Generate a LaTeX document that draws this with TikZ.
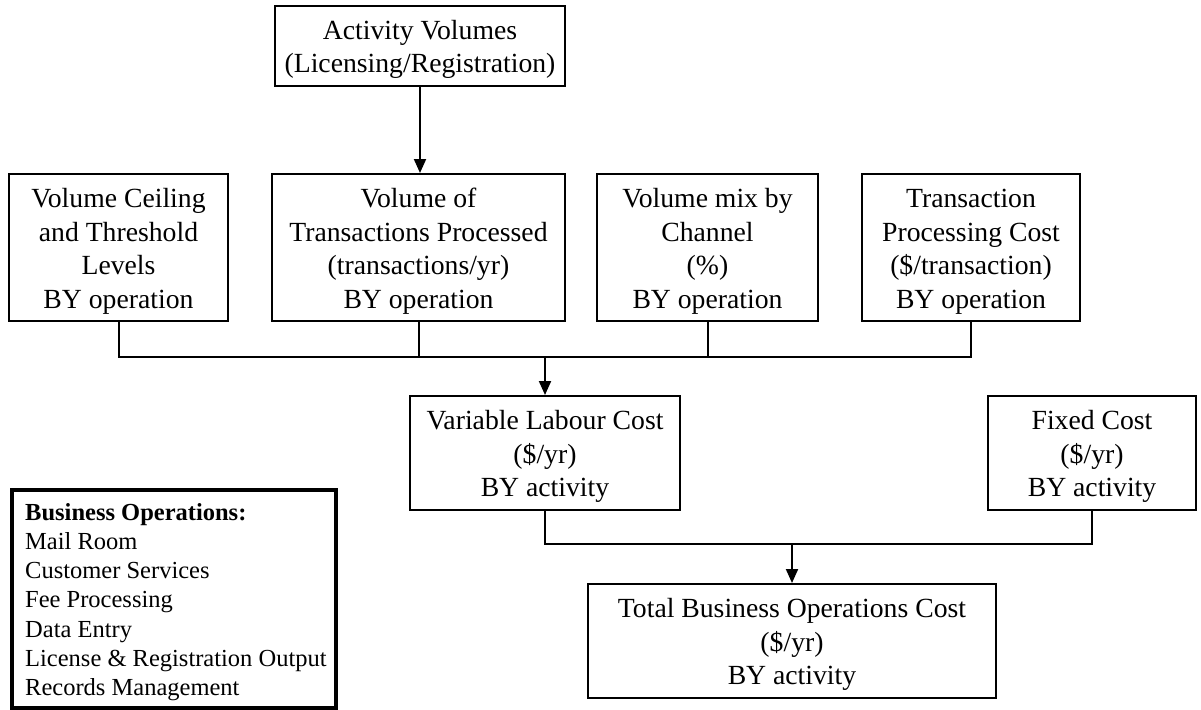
\documentclass[tikz,border=0pt]{standalone}
\usepackage{fontspec}
\setmainfont{Liberation Serif}
\usetikzlibrary{arrows.meta}
% struts fixing the space above the first and below the last line of a box
\newcommand{\topstrutx}{\rule{0pt}{33.5pt}}
\newcommand{\botstrutx}{\rule[-13pt]{0pt}{0pt}}
\begin{document}
\begin{tikzpicture}[x=1pt,y=-1pt,
  box/.style={draw, line width=2pt, align=center, anchor=north,
    inner xsep=2pt, inner ysep=0pt,
    font=\fontsize{27.7}{33.5}\selectfont},
  link/.style={line width=2pt},
  arr/.style={link, -{Triangle[length=14pt,width=12pt]}},
  legendframe/.style={draw, line width=3.5pt, anchor=north west, inner sep=0pt},
  legendtext/.style={align=left, anchor=north west, inner sep=0pt,
    font=\fontsize{24.5}{29.2}\selectfont},
]
\useasboundingbox (0,0) rectangle (1201,709);

% top input
\node[box, minimum width=290pt] (act) at (420,5)
  {\topstrutx Activity Volumes\\(Licensing/Registration)\botstrutx};

% second row of drivers
\node[box, minimum width=219pt] (ceil) at (118.5,173)
  {\topstrutx Volume Ceiling\\and Threshold\\Levels\\BY operation\botstrutx};
\node[box, minimum width=293pt] (trans) at (418.5,173)
  {\topstrutx Volume of\\Transactions Processed\\(transactions/yr)\\BY operation\botstrutx};
\node[box, minimum width=221pt] (mix) at (707.5,173)
  {\topstrutx Volume mix by\\Channel\\(\%)\\BY operation\botstrutx};
\node[box, minimum width=218pt] (tpc) at (971,173)
  {\topstrutx Transaction\\Processing Cost\\(\$/transaction)\\BY operation\botstrutx};

% cost components
\node[box, minimum width=270pt] (var) at (545,395)
  {\topstrutx Variable Labour Cost\\(\$/yr)\\BY activity\botstrutx};
\node[box, minimum width=208pt] (fixed) at (1092,395)
  {\topstrutx Fixed Cost\\(\$/yr)\\BY activity\botstrutx};

% result
\node[box, minimum width=408pt] (total) at (792,583)
  {\topstrutx Total Business Operations Cost\\(\$/yr)\\BY activity\botstrutx};

% legend
\node[legendframe, minimum width=324pt, minimum height=218pt] (legend) at (10,488) {};
\node[legendtext] (legendlist) at (25,500)
  {\rule{0pt}{20pt}\textbf{Business Operations:}\\Mail Room\\Customer Services\\Fee Processing\\Data Entry\\License \& Registration Output\\Records Management};

% connectors
\draw[arr] (act.south) -- (act.south |- trans.north);

\coordinate (busA) at (546,357);
\draw[link] (ceil.south) -- (ceil.south |- busA) -- (tpc.south |- busA) -- (tpc.south);
\draw[link] (trans.south) -- (trans.south |- busA);
\draw[link] (mix.south) -- (mix.south |- busA);
\draw[arr] (var.north |- busA) -- (var.north);

\coordinate (busB) at (792,544);
\draw[link] (var.south) -- (var.south |- busB) -- (fixed.south |- busB) -- (fixed.south);
\draw[arr] (total.north |- busB) -- (total.north);
\end{tikzpicture}
\end{document}
